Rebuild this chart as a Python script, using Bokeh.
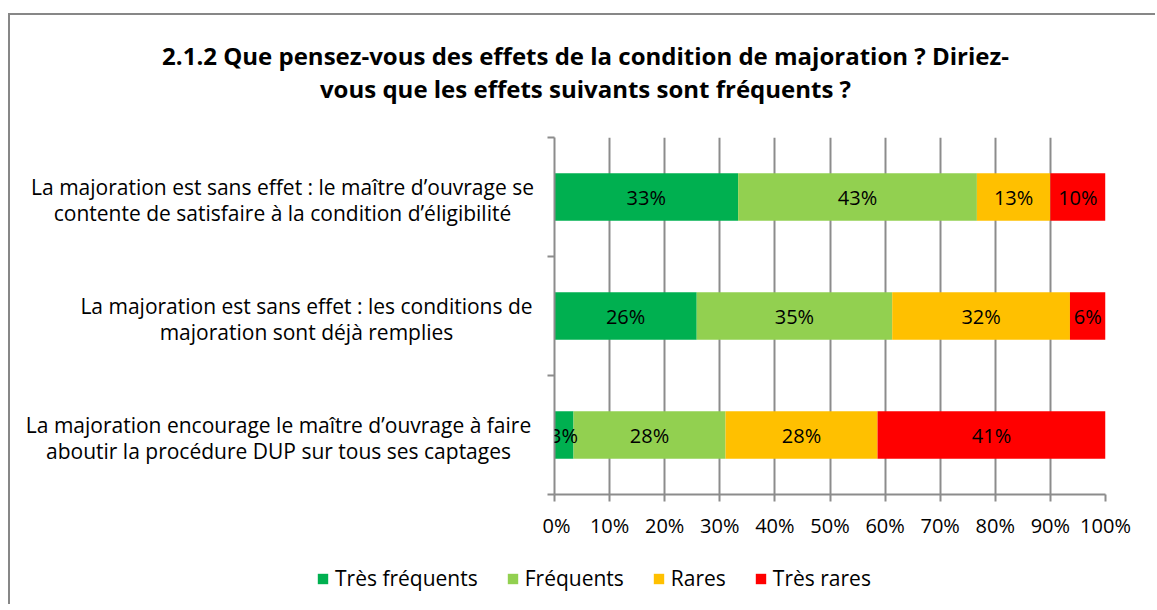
from bokeh.plotting import figure
from bokeh.layouts import column, row
from bokeh.models import (ColumnDataSource, Range1d, FixedTicker, PrintfTickFormatter,
                          LabelSet, Legend, LegendItem)
from bokeh.core.properties import value
from bokeh.embed import file_html
from bokeh.resources import INLINE

# ---------------- data ----------------
categories = [
    "La majoration est sans effet : le maître d’ouvrage se\ncontente de satisfaire à la condition d’éligibilité",
    "La majoration est sans effet : les conditions de\nmajoration sont déjà remplies",
    "La majoration encourage le maître d’ouvrage à faire\naboutir la procédure DUP sur tous ses captages",
]
series_names = ["Très fréquents", "Fréquents", "Rares", "Très rares"]
tres_frequents = [33.33, 25.81, 3.45]
frequents = [43.33, 35.48, 27.59]
rares = [13.33, 32.26, 27.59]
tres_rares = [10.00, 6.45, 41.38]
x_ticks = list(range(0, 101, 10))
title_lines = [
    "2.1.2 Que pensez-vous des effets de la condition de majoration ? Diriez-",
    "vous que les effets suivants sont fréquents ?",
]

# ---------------- layout / style ----------------
colors = ["#00B050", "#92D050", "#FFC000", "#FF0000"]
FONT = "Open Sans"
GRAY = "#8c8c8c"
TOTAL_W = 1145
FW, FH = 551, 357              # plot frame size
TITLE_H = 110
MT, MB = 12, 50
LAB_W = 532                    # width of the category-label column
P_ML, P_MR = 12, 50
P_W = TOTAL_W - LAB_W
ROW_H = MT + FH + MB
LEG_H = 60
label_cx = [272, 296, 268]     # centre of each category label block (label column px)
LINE_GAP = 26                  # px between the two lines of a label
title_y = [40, 73]             # px from top of the title strip
title_cx = 575


def no_frame_align(fig):
    if "frame_align" in fig.properties():
        fig.frame_align = False


series = [tres_frequents, frequents, rares, tres_rares]
keys = ["s0", "s1", "s2", "s3"]
n = len(categories)
ypos = [n - 1 - i + 0.5 for i in range(n)]

data = {"y": ypos}
for k, s in zip(keys, series):
    data[k] = s
source = ColumnDataSource(data)

# ---------------- main plot ----------------
y_range = Range1d(0, n)
p = figure(width=P_W, height=ROW_H, output_backend="svg", toolbar_location=None,
           x_range=Range1d(0, 100), y_range=y_range,
           min_border_left=P_ML, min_border_right=P_MR, min_border_top=MT, min_border_bottom=MB,
           background_fill_color="white", border_fill_color="white")
p.outline_line_color = None

renderers = p.hbar_stack(keys, y="y", height=0.4, color=colors, source=source, line_width=0)

p.ygrid.grid_line_color = None
p.xgrid.ticker = FixedTicker(ticks=x_ticks)
p.xgrid.grid_line_color = GRAY
p.xgrid.grid_line_width = 2

p.xaxis.ticker = FixedTicker(ticks=x_ticks)
p.xaxis.formatter = PrintfTickFormatter(format="%d%%")
p.xaxis.axis_line_color = GRAY
p.xaxis.axis_line_width = 2
p.xaxis.major_tick_line_color = GRAY
p.xaxis.major_tick_line_width = 2
p.xaxis.major_tick_in = 0
p.xaxis.major_tick_out = 7
p.xaxis.minor_tick_line_color = None
p.xaxis.major_label_text_font = FONT
p.xaxis.major_label_text_font_size = "20px"
p.xaxis.major_label_text_color = "black"
p.xaxis.major_label_standoff = 10

# y axis: tick marks on the category boundaries (labels drawn in the label column)
p.yaxis.ticker = FixedTicker(ticks=ypos, minor_ticks=list(range(n + 1)))
p.yaxis.major_label_overrides = {y: "" for y in ypos}
p.yaxis.axis_line_color = GRAY
p.yaxis.axis_line_width = 2
p.yaxis.major_tick_line_color = None
p.yaxis.major_tick_in = 0
p.yaxis.major_tick_out = 0
p.yaxis.minor_tick_line_color = GRAY
p.yaxis.minor_tick_line_width = 2
p.yaxis.minor_tick_in = 0
p.yaxis.minor_tick_out = 7
p.yaxis.major_label_standoff = 0

# data labels
lx, ly, lt = [], [], []
for i in range(n):
    cum = 0
    for s in series:
        v = s[i]
        lx.append(cum + v / 2)
        ly.append(ypos[i])
        lt.append(f"{round(v)}%")
        cum += v
p.add_layout(LabelSet(x="x", y="y", text="t",
                      source=ColumnDataSource(dict(x=lx, y=ly, t=lt)),
                      text_align="center", text_baseline="middle",
                      text_font=value(FONT), text_font_size="20px", text_color="black"))

# ---------------- category label column (shares the y range) ----------------
lab = figure(width=LAB_W, height=ROW_H, output_backend="svg", toolbar_location=None,
             x_range=Range1d(0, LAB_W), y_range=y_range,
             x_axis_location=None, y_axis_location=None,
             min_border_left=0, min_border_right=0, min_border_top=MT, min_border_bottom=MB,
             background_fill_color="white", border_fill_color="white")
lab.outline_line_color = None
lab.grid.visible = False
no_frame_align(lab)
px_per_unit = FH / n
cx, cy, ct = [], [], []
for i, cat in enumerate(categories):
    lines = cat.split("\n")
    for j, line in enumerate(lines):
        off_px = ((len(lines) - 1) / 2 - j) * LINE_GAP - 2.5
        cx.append(label_cx[i])
        cy.append(ypos[i] + off_px / px_per_unit)
        ct.append(line)
lab.text(x="x", y="y", text="t", source=ColumnDataSource(dict(x=cx, y=cy, t=ct)),
         text_align="center", text_baseline="middle",
         text_font=value(FONT), text_font_size=value("21px"), text_color="black")

# ---------------- title strip ----------------
tf = figure(width=TOTAL_W, height=TITLE_H, output_backend="svg", toolbar_location=None,
            x_range=Range1d(0, TOTAL_W), y_range=Range1d(TITLE_H, 0),
            x_axis_location=None, y_axis_location=None, min_border=0,
            background_fill_color="white", border_fill_color="white")
tf.outline_line_color = None
tf.grid.visible = False
no_frame_align(tf)
tf.text(x=[title_cx] * len(title_lines), y=title_y, text=title_lines,
        text_align="center", text_baseline="middle",
        text_font=value(FONT), text_font_size=value("24px"), text_font_style="bold",
        text_color="black")

# ---------------- legend strip ----------------
lf = figure(width=TOTAL_W, height=LEG_H, output_backend="svg", toolbar_location=None,
            x_range=Range1d(0, 1), y_range=Range1d(0, 1),
            x_axis_location=None, y_axis_location=None, min_border=0,
            background_fill_color="white", border_fill_color="white")
lf.outline_line_color = None
lf.grid.visible = False
no_frame_align(lf)
items = []
for name, c in zip(series_names, colors):
    r = lf.hbar(y=[float("nan")], right=[float("nan")], height=0.4, color=c, line_width=0)
    items.append(LegendItem(label=name, renderers=[r]))
legend = Legend(items=items, orientation="horizontal", location=(306, 12),
                border_line_color=None, background_fill_alpha=0,
                padding=0, margin=0, spacing=28, label_standoff=6,
                glyph_width=13, glyph_height=13,
                label_text_font=FONT, label_text_font_size="21px", label_text_color="black")
lf.add_layout(legend, "center")

layout = column(tf, row(lab, p, spacing=0), lf, spacing=0,
                styles={"margin-left": "8px", "margin-top": "13px",
                        "border-top": "2px solid #878787", "border-left": "2px solid #878787"})

open("out.html", "w").write(file_html(layout, INLINE))
